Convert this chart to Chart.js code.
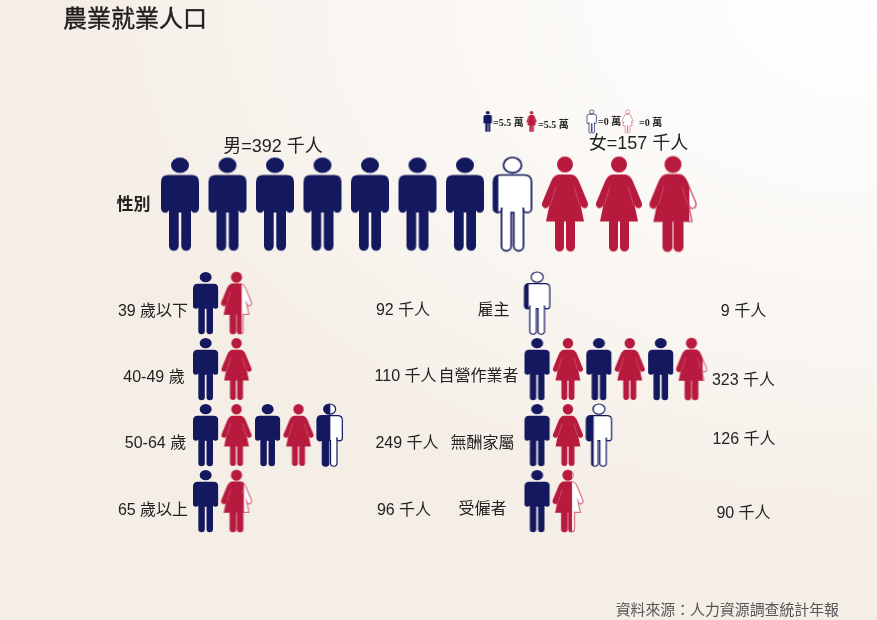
<!DOCTYPE html>
<html>
<head>
<meta charset="utf-8">
<title>農業就業人口</title>
<script src="https://cdn.jsdelivr.net/npm/chart.js@4"></script>
<style>
    html, body { margin: 0; padding: 0; }
    canvas { display: block; }
</style>
</head>
<body>
<canvas id="chart" width="877" height="620"></canvas>
<script>
const chartTitle = '農業就業人口';
const sourceNote = '資料來源：人力資源調查統計年報';

// thousand people represented by one icon
const unitValue = 55;

const genderLabels = ['男', '女'];
const genderValues = [392, 157];

const ageLabels = ['39 歲以下', '40-49 歲', '50-64 歲', '65 歲以上'];
const ageValues = [92, 110, 249, 96];

const jobLabels = ['雇主', '自營作業者', '無酬家屬', '受僱者'];
const jobValues = [9, 323, 126, 90];

const legendLabels = ['=5.5 萬', '=5.5 萬', '=0 萬', '=0 萬'];
const legendFills = [1, 1, 0, 0];

const NAVY = '#14185f';
const CRIMSON = '#b81a3d';
const WIDTH = 877;
const HEIGHT = 620;
const BODY_FONT = '"Liberation Sans", "Noto Sans CJK TC", sans-serif';

function manPath() {
    const p = new Path2D();
    p.ellipse(19, 7.7, 9, 7.7, 0, 0, Math.PI * 2);
    p.moveTo(7, 17.5);
    p.lineTo(31, 17.5);
    p.quadraticCurveTo(38, 17.5, 38, 24.5);
    p.lineTo(38, 51);
    p.arc(33.8, 51, 4.2, 0, Math.PI);
    p.lineTo(30, 51);
    p.lineTo(30, 88.5);
    p.arc(25.15, 88.5, 4.85, 0, Math.PI);
    p.lineTo(20.3, 55);
    p.lineTo(17.7, 55);
    p.lineTo(17.7, 88.5);
    p.arc(12.85, 88.5, 4.85, 0, Math.PI);
    p.lineTo(8, 51);
    p.arc(4.2, 51, 4.2, 0, Math.PI);
    p.lineTo(0, 24.5);
    p.quadraticCurveTo(0, 17.5, 7, 17.5);
    p.closePath();
    return p;
}

function womanPath() {
    const p = new Path2D();
    p.arc(23, 8, 8, 0, Math.PI * 2);
    p.moveTo(17, 18);
    p.lineTo(29, 18);
    p.quadraticCurveTo(34, 18, 37, 25);
    p.lineTo(45.7, 46);
    p.quadraticCurveTo(47, 50, 43.8, 51.5);
    p.quadraticCurveTo(41, 52.5, 39.5, 50);
    p.lineTo(38.5, 48);
    p.lineTo(42, 65);
    p.lineTo(33, 65);
    p.lineTo(33, 90.5);
    p.arc(28.5, 90.5, 4.5, 0, Math.PI);
    p.lineTo(24, 65);
    p.lineTo(22, 65);
    p.lineTo(22, 90.5);
    p.arc(17.5, 90.5, 4.5, 0, Math.PI);
    p.lineTo(13, 65);
    p.lineTo(4, 65);
    p.lineTo(7.5, 48);
    p.lineTo(6.5, 50);
    p.quadraticCurveTo(5, 52.5, 2.2, 51.5);
    p.quadraticCurveTo(-1, 50, 0.3, 46);
    p.lineTo(9, 25);
    p.quadraticCurveTo(12, 18, 17, 18);
    p.closePath();
    return p;
}

const ICONS = {
    man: { path: manPath(), width: 38, height: 93, color: NAVY },
    woman: { path: womanPath(), width: 46, height: 95, color: CRIMSON }
};

// one icon as a small canvas, coloured from the left up to fill
function makeIcon(kind, fill, heightPx) {
    const icon = ICONS[kind];
    const scale = heightPx / icon.height;
    const pad = 2;
    const c = document.createElement('canvas');
    c.width = Math.ceil(icon.width * scale) + pad * 2;
    c.height = Math.ceil(heightPx) + pad * 2;
    const ctx = c.getContext('2d');
    ctx.translate(pad, pad);
    ctx.scale(scale, scale);

    if (fill < 1) {
        ctx.fillStyle = '#ffffff';
        ctx.fill(icon.path);
    }
    ctx.save();
    ctx.beginPath();
    ctx.rect(-pad, -pad, icon.width * fill + pad, icon.height + pad * 2);
    ctx.clip();
    ctx.fillStyle = icon.color;
    ctx.fill(icon.path);
    ctx.restore();

    if (fill < 1) {
        const px = heightPx < 30 ? 0.7 : (heightPx > 80 ? 1.7 : 1.2);
        ctx.strokeStyle = icon.color;
        ctx.globalAlpha = kind === 'man' ? 1 : 0.6;
        ctx.lineWidth = px / scale;
        ctx.stroke(icon.path);
        ctx.globalAlpha = 1;
    }
    if (kind === 'woman' && fill > 0) {
        // faint seam between arm and dress
        ctx.save();
        ctx.beginPath();
        ctx.rect(0, 0, icon.width * fill, icon.height);
        ctx.clip();
        ctx.strokeStyle = 'rgba(255,255,255,0.3)';
        ctx.lineWidth = 0.7 / scale;
        ctx.beginPath();
        ctx.moveTo(14, 30);
        ctx.lineTo(8.5, 48);
        ctx.moveTo(32, 30);
        ctx.lineTo(37.5, 48);
        ctx.stroke();
        ctx.restore();
    }
    return c;
}

// turn a total into icon slots: every icon stands for unitValue
function slotFills(value) {
    const count = Math.ceil(value / unitValue);
    const fills = [];
    for (let i = 0; i < count; i++) {
        fills.push(Math.min(1, value / unitValue - i));
    }
    return fills;
}

function singleKindDataset(value, kind, row, xAxisID, heightPx) {
    const fills = slotFills(value);
    return {
        label: kind,
        xAxisID: xAxisID,
        yAxisID: 'y',
        data: fills.map((f, i) => ({ x: i, y: row })),
        pointStyle: fills.map(f => makeIcon(kind, f, heightPx))
    };
}

// rows of alternating man / woman icons
function mixedDataset(values, xAxisID, heightPx) {
    const data = [];
    const styles = [];
    values.forEach((value, row) => {
        slotFills(value).forEach((f, i) => {
            data.push({ x: i, y: row });
            styles.push(makeIcon(i % 2 ? 'woman' : 'man', f, heightPx));
        });
    });
    return { label: xAxisID, xAxisID: xAxisID, yAxisID: 'y', data: data, pointStyle: styles };
}

function legendDataset(fills, xAxisID) {
    return {
        label: xAxisID,
        xAxisID: xAxisID,
        yAxisID: 'y',
        data: fills.map((f, i) => ({ x: i, y: LEGEND_ROW })),
        pointStyle: fills.map((f, i) => makeIcon(i % 2 ? 'woman' : 'man', f, f === 0 ? 23 : 21))
    };
}

// hidden linear axis: value 0 lands on origin px, each unit is step px
function slotAxis(origin, step) {
    return { type: 'linear', display: false, min: -origin / step, max: (WIDTH - origin) / step };
}

const ROW_ORIGIN = 303;
const ROW_STEP = 66;
const GENDER_ROW = -1.5;
const LEGEND_ROW = -2.75;

const backgroundPlugin = {
    id: 'pageBackground',
    beforeDraw(chart) {
        const ctx = chart.ctx;
        ctx.save();
        ctx.fillStyle = '#f5eee7';
        ctx.fillRect(0, 0, WIDTH, HEIGHT);
        // light corner at the top right, wider than it is tall
        ctx.translate(WIDTH, 0);
        ctx.scale(1.5, 1);
        const g = ctx.createRadialGradient(0, 0, 0, 0, 0, 560);
        g.addColorStop(0, '#ffffff');
        g.addColorStop(0.35, '#fcfaf8');
        g.addColorStop(0.6, '#f9f6f1');
        g.addColorStop(0.95, '#f5eee7');
        g.addColorStop(1, '#f5eee7');
        ctx.fillStyle = g;
        ctx.fillRect(-WIDTH, 0, WIDTH, HEIGHT);
        ctx.restore();
    }
};

const textPlugin = {
    id: 'chartTexts',
    afterDraw(chart) {
        const ctx = chart.ctx;
        const put = (text, x, y, font, color, align) => {
            ctx.font = font;
            ctx.fillStyle = color || '#222222';
            ctx.textAlign = align || 'center';
            ctx.textBaseline = 'middle';
            ctx.fillText(text, x, y);
        };
        ctx.save();
        put(chartTitle, 63, 18, '400 24px "Noto Sans CJK TC", sans-serif', '#1e1e1e', 'left');
        ctx.strokeStyle = '#1e1e1e';
        ctx.lineWidth = 0.4;
        ctx.strokeText(chartTitle, 63, 18);
        put(sourceNote, 839, 609, '14.9px "Noto Sans CJK TC", sans-serif', '#555555', 'right');

        const big = '18px ' + BODY_FONT;
        put('性別', 133.5, 204, '700 17px "Noto Sans CJK TC", sans-serif');
        put(genderLabels[0] + '=' + genderValues[0] + ' 千人', 273, 147, big);
        put(genderLabels[1] + '=' + genderValues[1] + ' 千人', 638.5, 144.5, big);

        const body = '16px ' + BODY_FONT;
        const ageLabelX = [153, 154, 155.5, 153];
        const ageLabelY = [312, 378, 444, 511];
        const ageValueX = [403, 405.5, 407, 404];
        const ageValueY = [311, 377, 444, 511];
        ageLabels.forEach((label, i) => {
            put(label, ageLabelX[i], ageLabelY[i], body);
            put(ageValues[i] + ' 千人', ageValueX[i], ageValueY[i], body);
        });

        const jobLabelX = [493.5, 478.5, 482.5, 482.5];
        const jobLabelY = [311, 377, 444, 510];
        const jobValueX = [743.5, 743.5, 744, 743.5];
        const jobValueY = [312, 381, 440, 514];
        jobLabels.forEach((label, i) => {
            put(label, jobLabelX[i], jobLabelY[i], body);
            put(jobValues[i] + ' 千人', jobValueX[i], jobValueY[i], body);
        });

        const tiny = '700 10px "Liberation Serif", "Noto Sans CJK TC", serif';
        const legendTextX = [493, 538, 598, 639];
        const legendTextY = [123, 125, 122, 123];
        legendLabels.forEach((label, i) => {
            put(label, legendTextX[i], legendTextY[i], tiny, '#222222', 'left');
        });
        ctx.restore();
    }
};

new Chart(document.getElementById('chart').getContext('2d'), {
    type: 'scatter',
    data: {
        datasets: [
            singleKindDataset(genderValues[0], 'man', GENDER_ROW, 'xMen', 93),
            singleKindDataset(genderValues[1], 'woman', GENDER_ROW, 'xWomen', 95),
            mixedDataset(ageValues, 'xAge', 62),
            mixedDataset(jobValues, 'xJob', 62),
            legendDataset(legendFills.slice(0, 2), 'xKeyFull'),
            legendDataset(legendFills.slice(2), 'xKeyEmpty')
        ]
    },
    options: {
        responsive: false,
        animation: false,
        events: [],
        layout: { padding: 0, autoPadding: false },
        elements: { point: { radius: 10, borderWidth: 0 } },
        scales: {
            xMen: slotAxis(180, 47.5),
            xWomen: slotAxis(565, 54),
            xAge: slotAxis(206, 31),
            xJob: slotAxis(537.5, 30.9),
            xKeyFull: slotAxis(488, 44),
            xKeyEmpty: slotAxis(592, 36),
            y: {
                type: 'linear',
                display: false,
                reverse: true,
                min: -ROW_ORIGIN / ROW_STEP,
                max: (HEIGHT - ROW_ORIGIN) / ROW_STEP
            }
        },
        plugins: {
            legend: { display: false },
            title: { display: false },
            tooltip: { enabled: false }
        }
    },
    plugins: [backgroundPlugin, textPlugin]
});
</script>
</body>
</html>
